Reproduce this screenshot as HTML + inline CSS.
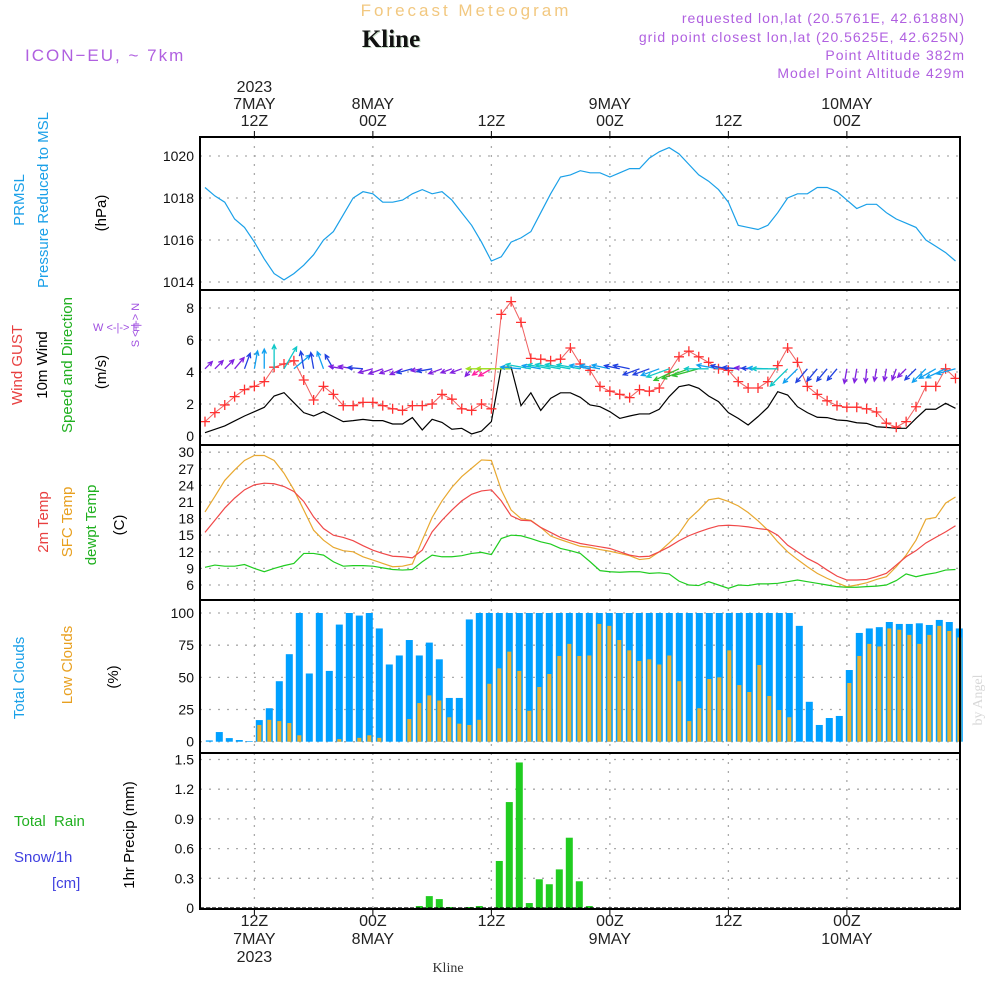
<!DOCTYPE html>
<html><head><meta charset="utf-8"><title>Forecast Meteogram Kline</title>
<style>body{margin:0;background:#fff}svg{display:block}text{font-family:"Liberation Sans",sans-serif}</style></head>
<body>
<svg id="c" width="1000" height="1000" viewBox="0 0 1000 1000" xmlns="http://www.w3.org/2000/svg">
<rect width="1000" height="1000" fill="#fff"/>
<text x="466" y="16" text-anchor="middle" font-size="17" fill="#f2c880" letter-spacing="3">Forecast Meteogram</text>
<text x="392" y="48" text-anchor="middle" font-size="25" font-weight="bold" style="font-family:'Liberation Serif',serif" fill="#c8dcc8">Kline</text>
<text x="391" y="47" text-anchor="middle" font-size="25" font-weight="bold" style="font-family:'Liberation Serif',serif" fill="#111">Kline</text>
<text x="25" y="61" font-size="17" fill="#b060e0" letter-spacing="2">ICON−EU, ~ 7km</text>
<g font-size="14" fill="#b060e0" text-anchor="end" letter-spacing="1">
<text x="965" y="23">requested lon,lat (20.5761E, 42.6188N)</text>
<text x="965" y="42">grid point closest lon,lat (20.5625E, 42.625N)</text>
<text x="965" y="60">Point Altitude 382m</text>
<text x="965" y="78">Model Point Altitude 429m</text>
</g>
<g id="axes"></g>
<g id="marks"></g>
<g font-size="15">
<text transform="translate(24,200) rotate(-90)" text-anchor="middle" fill="#1aa0e8">PRMSL</text>
<text transform="translate(48,200) rotate(-90)" text-anchor="middle" fill="#1aa0e8">Pressure Reduced to MSL</text>
<text transform="translate(106,213) rotate(-90)" text-anchor="middle" fill="#000">(hPa)</text>
<text transform="translate(22,365) rotate(-90)" text-anchor="middle" fill="#e84040">Wind GUST</text>
<text transform="translate(47,365) rotate(-90)" text-anchor="middle" fill="#000">10m Wind</text>
<text transform="translate(72,365) rotate(-90)" text-anchor="middle" fill="#20b020">Speed and Direction</text>
<text transform="translate(106,372) rotate(-90)" text-anchor="middle" fill="#000">(m/s)</text>
<text x="93" y="331" font-size="11" fill="#a050e0">W &lt;-|-&gt; E</text>
<text transform="translate(139,325) rotate(-90)" text-anchor="middle" font-size="11" fill="#a050e0">S &lt;-|-&gt; N</text>
<text transform="translate(48,522) rotate(-90)" text-anchor="middle" fill="#e84040">2m Temp</text>
<text transform="translate(72,522) rotate(-90)" text-anchor="middle" fill="#e8a020">SFC Temp</text>
<text transform="translate(96,525) rotate(-90)" text-anchor="middle" fill="#20b020">dewpt Temp</text>
<text transform="translate(124,525) rotate(-90)" text-anchor="middle" fill="#000">(C)</text>
<text transform="translate(24,678) rotate(-90)" text-anchor="middle" fill="#1aa0e8">Total Clouds</text>
<text transform="translate(72,665) rotate(-90)" text-anchor="middle" fill="#e8a020">Low Clouds</text>
<text transform="translate(118,677) rotate(-90)" text-anchor="middle" fill="#000">(%)</text>
<text x="14" y="826" fill="#20b020" xml:space="preserve">Total  Rain</text>
<text x="14" y="862" fill="#4040e0">Snow/1h</text>
<text x="52" y="888" fill="#4040e0">[cm]</text>
<text transform="translate(134,835) rotate(-90)" text-anchor="middle" fill="#000">1hr Precip (mm)</text>
</g>
<text transform="translate(982,700) rotate(-90)" text-anchor="middle" font-size="14" style="font-family:'Liberation Serif',serif" fill="#d8d8d8">by Angel</text>
<text x="448" y="972" text-anchor="middle" font-size="14" style="font-family:'Liberation Serif',serif" fill="#333">Kline</text>
</svg>
<script>
const pressure=[1018.5,1018.1,1017.8,1017.0,1016.6,1015.9,1015.1,1014.4,1014.1,1014.4,1014.8,1015.3,1016.0,1016.4,1017.2,1018.0,1018.3,1018.2,1017.8,1017.8,1017.9,1018.2,1018.4,1018.2,1018.3,1017.9,1017.3,1016.7,1015.9,1015.0,1015.2,1015.9,1016.1,1016.4,1017.3,1018.2,1019.0,1019.1,1019.3,1019.2,1019.2,1019.0,1019.2,1019.4,1019.4,1019.9,1020.2,1020.4,1020.1,1019.6,1019.1,1018.8,1018.4,1017.8,1016.7,1016.6,1016.5,1016.7,1017.3,1018.0,1018.2,1018.2,1018.5,1018.5,1018.3,1017.9,1017.5,1017.7,1017.7,1017.3,1017.0,1016.8,1016.6,1016.0,1015.7,1015.4,1015.0];
const gust=[0.9,1.46,1.94,2.46,2.9,3.1,3.4,4.3,4.5,4.7,3.5,2.25,3.1,2.6,1.9,1.9,2.1,2.1,1.9,1.7,1.6,1.9,1.9,2.0,2.6,2.3,1.7,1.6,2.0,1.7,7.6,8.4,7.1,4.85,4.8,4.7,4.8,5.5,4.5,4.1,3.1,2.8,2.6,2.4,2.9,2.8,3.0,4.0,4.95,5.3,4.95,4.6,4.2,4.1,3.4,3.0,3.0,3.4,4.4,5.5,4.6,3.1,2.6,2.2,1.9,1.8,1.8,1.7,1.5,0.8,0.55,0.9,1.83,3.1,3.1,4.2,3.6];
const wind=[0.21,0.42,0.63,0.94,1.25,1.52,1.79,2.5,2.71,2.08,1.46,1.25,1.52,1.21,0.9,0.96,1.04,0.96,0.96,0.75,0.75,1.15,0.38,1.04,0.85,0.42,0.48,0.13,0.31,0.9,4.3,4.3,1.9,2.7,1.6,2.35,2.7,2.7,2.42,1.94,1.83,1.52,1.1,1.25,1.38,1.38,1.67,2.46,3.08,3.2,2.98,2.5,2.15,1.46,1.1,0.69,1.21,1.79,2.77,2.56,1.83,1.46,1.17,1.15,1.0,0.96,0.83,0.79,0.58,0.54,0.48,0.48,1.1,1.67,1.67,2.04,1.73];
const windDir=[45,45,45,50,70,80,90,90,60,40,100,100,110,120,170,170,175,195,200,200,205,195,190,190,200,200,200,230,215,210,180,180,175,170,170,170,170,170,170,170,170,168,168,168,200,200,200,200,205,200,195,180,170,170,175,175,178,178,180,225,225,230,230,230,230,260,260,265,260,260,250,225,225,225,210,205,195];
const temp2m=[15.5,17.7,19.9,21.7,23.2,24.1,24.4,24.3,23.8,22.9,21.1,18.3,16.2,15.0,14.6,14.0,13.1,12.3,11.7,11.2,11.1,10.9,12.3,15.6,17.7,19.55,21.2,22.4,23.0,23.2,21.2,18.5,17.7,17.6,16.4,15.5,14.6,14.0,13.5,13.2,12.9,12.6,12.0,11.4,11.1,11.2,12.0,12.9,14.0,14.9,15.6,16.2,16.7,16.8,16.7,16.5,16.2,16.0,15.0,13.2,12.0,10.8,9.9,8.7,7.6,6.9,6.9,7.0,7.5,8.1,9.6,11.1,12.2,13.6,14.6,15.6,16.7];
const sfcTemp=[19.2,22.0,24.9,26.8,28.5,29.4,29.4,28.5,26.2,23.2,19.55,15.9,14.1,12.8,12.2,12.0,11.1,10.5,9.9,9.3,9.4,9.8,14.1,18.2,21.2,23.65,25.6,27.1,28.6,28.5,23.2,19.55,18.0,17.7,16.4,14.85,14.2,13.6,13.0,12.8,12.4,12.1,11.7,11.3,10.6,10.8,12.0,13.6,15.3,17.9,19.55,21.4,21.7,21.1,20.3,19.1,17.6,15.9,13.8,12.0,10.6,9.3,8.1,7.2,6.4,5.7,6.0,6.4,7.0,7.5,9.3,11.4,14.1,17.9,18.2,20.8,21.9];
const dewpt=[9.2,9.6,9.4,9.4,9.7,9.0,8.4,9.0,9.5,9.9,11.7,11.7,11.4,10.2,9.4,9.5,9.5,9.4,9.1,8.8,8.7,8.8,10.2,11.4,11.1,11.1,11.3,11.7,11.9,11.5,14.4,15.0,14.9,14.4,13.8,13.4,12.6,12.2,11.7,10.2,8.6,8.4,8.3,8.4,8.4,8.1,8.2,8.0,6.7,6.0,5.9,6.6,6.0,5.4,6.0,5.9,6.2,6.2,6.3,6.6,6.9,6.6,6.3,6.0,5.7,5.6,5.6,5.7,5.8,6.0,6.8,8.0,7.5,7.9,8.2,8.7,8.8];
const totalClouds=[1,7.5,2.8,1.3,0.5,16.8,26,47,68,100,53,100,55,91,100,98,100,88,60,67,79,67,77,64,34,34,95,100,100,100,100,100,100,100,100,100,100,100,100,100,100,100,100,100,100,100,100,100,100,100,100,100,100,100,100,100,100,100,100,90,31,13,18.4,20,55.7,84.5,88,89,93,91.5,91.5,92,90.7,94.6,93,88];
const lowClouds=[0,0,0,0,0,13,17,16,14.5,5,0,0,0,2,0,3,5,3,0,0,17.6,30,36,32,19,14,13,17,45,57,70,55,24,42.5,52.6,66.6,76,66.6,67,91.5,90,79,71,62.7,64,60,67,47,16,26,48.7,50,71,44,38.6,59.6,35.5,24.6,19,0,0,0,0,0,45.6,66.6,76,74,88,87,83,76,83,90,86,81];
const precip=[0,0,0,0,0,0,0,0,0,0,0,0,0,0,0,0,0,0,0,0,0,0.02,0.12,0.09,0.01,0,0.01,0.02,0,0.475,1.07,1.47,0.05,0.29,0.24,0.39,0.71,0.27,0.02,0,0,0,0,0,0,0,0,0,0,0,0,0,0,0,0,0,0,0,0,0,0,0,0,0,0,0,0,0,0,0,0,0,0,0,0,0];
const pressTicks=[1014,1016,1018,1020];
const windTicks=[0,2,4,6,8];
const tempTicks=[6,9,12,15,18,21,24,27,30];
const cloudTicks=[0,25,50,75,100];
const precipTicks=[0,0.3,0.6,0.9,1.2,1.5];
const timeLabelsTop=[["2023","7MAY","12Z"],["","8MAY","00Z"],["","","12Z"],["","9MAY","00Z"],["","","12Z"],["","10MAY","00Z"]];
const timeLabelsBottom=[["12Z","7MAY","2023"],["00Z","8MAY",""],["12Z","",""],["00Z","9MAY",""],["12Z","",""],["00Z","10MAY",""]];
const timeLabelHours=[5,17,29,41,53,65];

const NS='http://www.w3.org/2000/svg';
const L=200,R=960;
const X=i=>205+9.875*i;
const BX=k=>209.3+10*k;
const yP=v=>282-(v-1014)*21;
const yW=v=>436-v*16;
const yT=v=>585-(v-6)*16.6/3;
const yC=v=>741.7-v*1.287;
const yR=v=>908-v*99;
const panels=[[137,290,pressTicks,yP,'pressure-panel'],[290,445,windTicks,yW,'wind-panel'],[445,600,tempTicks,yT,'temperature-panel'],[600,753,cloudTicks,yC,'cloud-panel'],[753,909,precipTicks,yR,'precip-panel']];
function el(t,a,p){const e=document.createElementNS(NS,t);for(const k in a)e.setAttribute(k,a[k]);p.appendChild(e);return e;}
const axes=document.getElementById('axes'),marks=document.getElementById('marks');
panels.forEach(([t,b,ticks,f,name])=>{
  const g=el('g',{},axes);
  
  
  ticks.forEach(v=>{
    const y=f(v);
    const ln=el('line',{x1:L,x2:R,y1:y,y2:y,stroke:'#aaa','stroke-width':1.3,'stroke-dasharray':'2,7'},g);
    
    
    const tx=el('text',{x:194,y:y+5,'text-anchor':'end','font-size':14,fill:'#111'},g);
    
    
    tx.textContent=v;
  });
  timeLabelHours.forEach(h=>{
    const x=X(h);
    const vl=el('line',{x1:x,x2:x,y1:t,y2:b,stroke:'#aaa','stroke-width':1.3,'stroke-dasharray':'2,7'},g);
    
    
  });
});
timeLabelHours.forEach((h,j)=>{
  const x=X(h);
  el('line',{x1:x,x2:x,y1:131,y2:137,stroke:'#000'},axes);
  el('line',{x1:x,x2:x,y1:909,y2:915,stroke:'#000'},axes);
  timeLabelsTop[j].forEach((s,r)=>{if(!s)return;const tx=el('text',{x:x,y:92+r*17,'text-anchor':'middle','font-size':16,fill:'#222'},axes);
    
    
    tx.textContent=s;});
  timeLabelsBottom[j].forEach((s,r)=>{if(!s)return;const tx=el('text',{x:x,y:926+r*18,'text-anchor':'middle','font-size':16,fill:'#222'},axes);
    
    
    tx.textContent=s;});
});
function poly(arr,f,color,name,w){const p=el('polyline',{points:arr.map((v,i)=>X(i)+','+f(v)).join(' '),fill:'none',stroke:color,'stroke-width':w||1.2},marks);
  
  return p;}
poly(pressure,yP,'#1aa0e8','pressure-line');
// clouds
totalClouds.forEach((v,k)=>{const r=el('rect',{x:BX(k)-3.5,y:yC(v),width:7,height:yC(0)-yC(v),fill:'#00a0ff'},marks);
  
  });
lowClouds.forEach((v,k)=>{const r=el('rect',{x:BX(k)-2,y:yC(v),width:4,height:yC(0)-yC(v),fill:'#e8b030'},marks);
  
  });
precip.forEach((v,k)=>{if(v<=0)return;const r=el('rect',{x:BX(k)-3.5,y:yR(v),width:7,height:yR(0)-yR(v),fill:'#20cc20'},marks);
  
  });
el('line',{x1:L,x2:R,y1:yR(0),y2:yR(0),stroke:'#000','stroke-width':1.2,'stroke-dasharray':'4,2'},marks);
// wind
poly(wind,yW,'#000','wind-speed-line');
poly(gust,yW,'#f06060','wind-gust-line',1);
gust.forEach((v,i)=>{const x=X(i),y=yW(v);const p=el('path',{d:`M${x-5},${y}H${x+5}M${x},${y-5}V${y+5}`,stroke:'#ff3030','stroke-width':1.3},marks);
  
  });
function wcol(s){return s<1?'#8020e0':s<1.5?'#2040e0':s<2.2?'#10a0f0':s<2.8?'#10c8c8':s<3.5?'#30c030':'#a0e020';}
windDir.forEach((d,i)=>{
  const s=wind[i],len=9+s*6,a=d*Math.PI/180;
  const x0=X(i),y0=yW(4.2),x1=x0+len*Math.cos(a),y1=y0-len*Math.sin(a);
  const h=5,b1=a+Math.PI-0.45,b2=a+Math.PI+0.45;
  const c=(i===28||i===29)?'#ff20a0':wcol(s);
  const p=el('path',{d:`M${x0},${y0}L${x1},${y1}M${x1+h*Math.cos(b1)},${y1-h*Math.sin(b1)}L${x1},${y1}L${x1+h*Math.cos(b2)},${y1-h*Math.sin(b2)}`,stroke:c,'stroke-width':1.3,fill:'none'},marks);
  
  
});
// temps
poly(sfcTemp,yT,'#e8a830','sfc-temp-line');
poly(temp2m,yT,'#f04848','temp-2m-line');
poly(dewpt,yT,'#20cc20','dewpoint-line');
// borders
panels.forEach(([t,b])=>{const r=el('rect',{x:L,y:t,width:R-L,height:b-t,fill:'none',stroke:'#000','stroke-width':2},axes.parentNode);
  
  });
</script>
</body></html>
